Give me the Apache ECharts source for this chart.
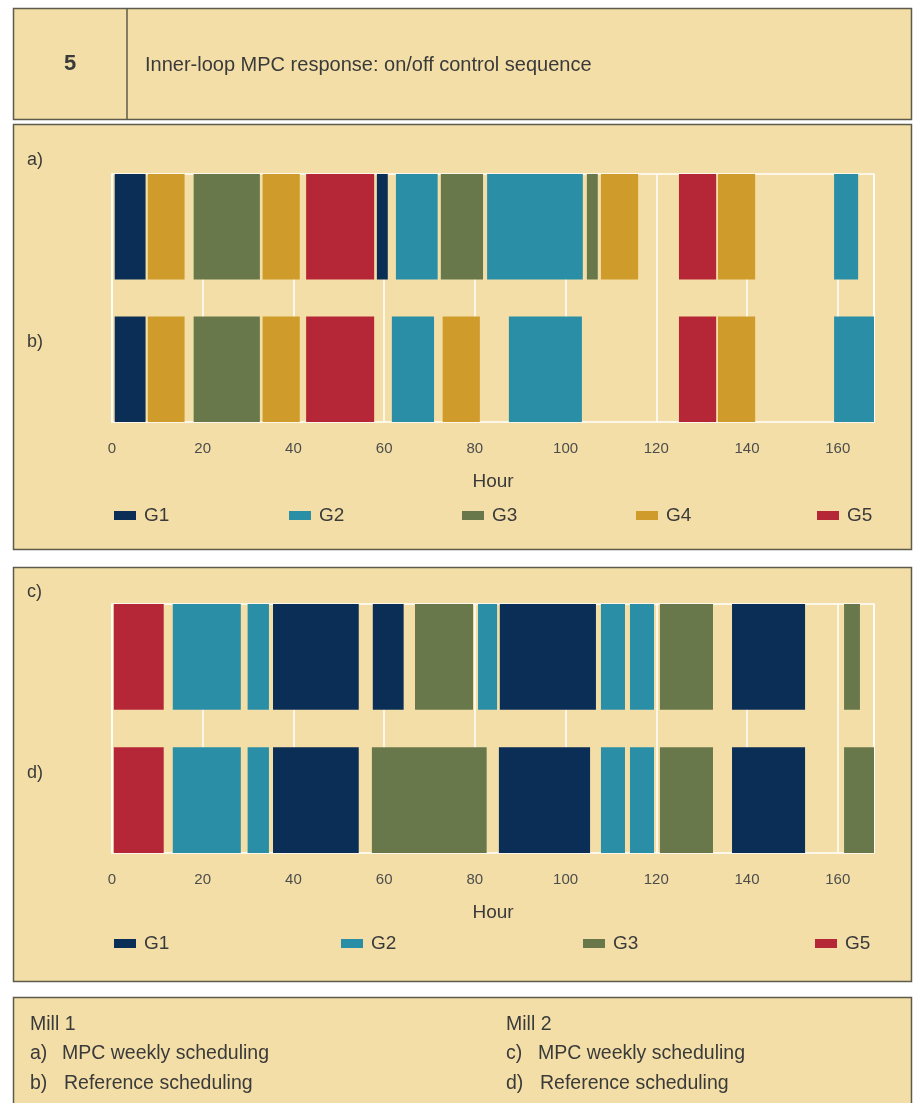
<!DOCTYPE html>
<html>
<head>
<meta charset="utf-8">
<title>Inner-loop MPC response</title>
<script src="https://cdn.jsdelivr.net/npm/echarts@6/dist/echarts.min.js"></script>
<style>
  html, body { margin: 0; padding: 0; background: #ffffff; }
  #chart { width: 913px; height: 1103px; }
</style>
</head>
<body>
<div id="chart"></div>
<script>
// Generator units and their colours
const unitsMill1 = ['G1', 'G2', 'G3', 'G4', 'G5'];
const unitsMill2 = ['G1', 'G2', 'G3', 'G5'];
const unitColors = ['#0a2e55', '#2a8ea6', '#68784a', '#cf9b2b', '#b52736'];
const unitColorNames = ['G1', 'G2', 'G3', 'G4', 'G5'];

// Hour axis ticks (one week)
const hourTicks = [0, 20, 40, 60, 80, 100, 120, 140, 160];
const weekHours = 168;

// On-periods per schedule: [unit, start hour, end hour]
const mpcMill1 = [
  ['G1', 0.6, 7.4], ['G4', 7.9, 16.0], ['G3', 18.0, 32.6], ['G4', 33.2, 41.4],
  ['G5', 42.8, 57.8], ['G1', 58.4, 60.8], ['G2', 62.6, 71.8], ['G3', 72.5, 81.8],
  ['G2', 82.7, 103.8], ['G3', 104.7, 107.1], ['G4', 107.8, 116.0], ['G5', 125.0, 133.2],
  ['G4', 133.6, 141.8], ['G2', 159.2, 164.5]
];
const refMill1 = [
  ['G1', 0.6, 7.4], ['G4', 7.9, 16.0], ['G3', 18.0, 32.6], ['G4', 33.2, 41.4],
  ['G5', 42.8, 57.8], ['G2', 61.7, 71.0], ['G4', 72.9, 81.1], ['G2', 87.5, 103.6],
  ['G5', 125.0, 133.2], ['G4', 133.6, 141.8], ['G2', 159.2, 168.0]
];
const mpcMill2 = [
  ['G5', 0.4, 11.4], ['G2', 13.4, 28.4], ['G2', 29.9, 34.6], ['G1', 35.5, 54.4],
  ['G1', 57.5, 64.3], ['G3', 66.8, 79.6], ['G2', 80.7, 84.9], ['G1', 85.5, 106.7],
  ['G2', 107.8, 113.1], ['G2', 114.2, 119.5], ['G3', 120.8, 132.5], ['G1', 136.7, 152.8],
  ['G3', 161.4, 164.9]
];
const refMill2 = [
  ['G5', 0.4, 11.4], ['G2', 13.4, 28.4], ['G2', 29.9, 34.6], ['G1', 35.5, 54.4],
  ['G3', 57.3, 82.6], ['G1', 85.3, 105.4], ['G2', 107.8, 113.1], ['G2', 114.2, 119.5],
  ['G3', 120.8, 132.5], ['G1', 136.7, 152.8], ['G3', 161.4, 168.0]
];

// Row labels and caption text
const rowLabels = ['a)', 'b)', 'c)', 'd)'];
const figureNumber = '5';
const figureTitle = 'Inner-loop MPC response: on/off control sequence';
const captionMill1 = ['Mill 1', 'a)', 'MPC weekly scheduling', 'b)', 'Reference scheduling'];
const captionMill2 = ['Mill 2', 'c)', 'MPC weekly scheduling', 'd)', 'Reference scheduling'];

const FONT = '"Liberation Sans", Arial, sans-serif';
const PANEL_BG = '#f2dea6';
const PANEL_BORDER = '#5e5b4d';
const TEXT = '#3a3a3a';

// Each schedule occupies one band: upper band (row 0) or lower band (row 1)
const BAND = 0.425;
function renderPeriod(params, api) {
  const start = api.value(0);
  const end = api.value(1);
  const row = api.value(2);
  const base = row === 0 ? 1 - BAND : 0;
  const p1 = api.coord([start, base + BAND]);
  const p2 = api.coord([end, base]);
  return {
    type: 'rect',
    shape: { x: p1[0], y: p1[1], width: p2[0] - p1[0], height: p2[1] - p1[1] },
    style: { fill: api.visual('color') }
  };
}

function buildSeries(units, upper, lower, axisIndex) {
  return units.map(function (u) {
    const data = [];
    upper.forEach(function (d) { if (d[0] === u) data.push([d[1], d[2], 0]); });
    lower.forEach(function (d) { if (d[0] === u) data.push([d[1], d[2], 1]); });
    return {
      type: 'custom',
      name: u,
      xAxisIndex: axisIndex,
      yAxisIndex: axisIndex,
      renderItem: renderPeriod,
      itemStyle: { color: unitColors[unitColorNames.indexOf(u)] },
      encode: { x: [0, 1] },
      data: data,
      z: 3
    };
  });
}

function xAxisDef(gridIndex) {
  return {
    type: 'value',
    gridIndex: gridIndex,
    min: 0,
    max: weekHours,
    interval: 20,
    name: 'Hour',
    nameLocation: 'middle',
    nameGap: 50,
    nameTextStyle: { fontFamily: FONT, fontSize: 19, color: TEXT },
    axisLine: { show: false },
    axisTick: { show: false },
    axisLabel: {
      margin: 19,
      fontFamily: FONT,
      fontSize: 15,
      color: '#4d4d4d',
      showMaxLabel: true,
      formatter: function (v) { return hourTicks.indexOf(v) >= 0 ? String(v) : ''; }
    },
    splitLine: { show: true, lineStyle: { color: '#ffffff', width: 1.5 } }
  };
}

function yAxisDef(gridIndex) {
  return {
    type: 'value', gridIndex: gridIndex, min: 0, max: 1, show: false,
    splitLine: { show: false }
  };
}

function legendDef(name, left, top) {
  return {
    data: [name],
    left: left,
    top: top,
    padding: 0,
    itemWidth: 22,
    itemHeight: 9,
    icon: 'rect',
    selectedMode: false,
    textStyle: { fontFamily: FONT, fontSize: 19, color: TEXT, padding: [0, 0, 0, 3] }
  };
}

function panel(x, y, w, h) {
  return {
    type: 'rect',
    shape: { x: x, y: y, width: w, height: h },
    style: { fill: PANEL_BG, stroke: PANEL_BORDER, lineWidth: 1.5 },
    z: -10
  };
}

function text(str, x, y, size, weight, align) {
  return {
    type: 'text',
    x: x, y: y,
    style: {
      text: str, fontFamily: FONT, fontSize: size, fill: TEXT,
      fontWeight: weight || 'normal',
      verticalAlign: 'middle', align: align || 'left'
    },
    z: 10
  };
}

const graphics = [
  panel(13.5, 8.5, 898, 111),
  { type: 'line', shape: { x1: 127, y1: 8.5, x2: 127, y2: 119.5 },
    style: { stroke: PANEL_BORDER, lineWidth: 1.5 }, z: -9 },
  text(figureNumber, 70, 64, 22, 'bold', 'center'),
  text(figureTitle, 145, 65, 20),
  panel(13.5, 124.5, 898, 425),
  panel(13.5, 567.5, 898, 414),
  panel(13.5, 997.5, 898, 120),
  text(rowLabels[0], 27, 160, 18),
  text(rowLabels[1], 27, 342, 18),
  text(rowLabels[2], 27, 592, 18),
  text(rowLabels[3], 27, 773, 18),
  text(captionMill1[0], 30, 1025, 19.5),
  text(captionMill1[1], 30, 1054, 19.5),
  text(captionMill1[2], 62, 1054, 19.5),
  text(captionMill1[3], 30, 1084, 19.5),
  text(captionMill1[4], 64, 1084, 19.5),
  text(captionMill2[0], 506, 1025, 19.5),
  text(captionMill2[1], 506, 1054, 19.5),
  text(captionMill2[2], 538, 1054, 19.5),
  text(captionMill2[3], 506, 1084, 19.5),
  text(captionMill2[4], 540, 1084, 19.5)
];

const legendLeft1 = [114, 289, 462, 636, 817];
const legendLeft2 = [114, 341, 583, 815];
const legends = [];
unitsMill1.forEach(function (u, i) { legends.push(legendDef(u, legendLeft1[i], 506)); });
unitsMill2.forEach(function (u, i) { legends.push(legendDef(u, legendLeft2[i], 934)); });

const chart = echarts.init(document.getElementById('chart'), null, { renderer: 'canvas' });
chart.setOption({
  animation: false,
  backgroundColor: '#ffffff',
  textStyle: { fontFamily: FONT },
  grid: [
    { left: 112, top: 174, width: 762, height: 248, show: true, borderColor: '#ffffff', borderWidth: 1.5, backgroundColor: 'transparent' },
    { left: 112, top: 604, width: 762, height: 249, show: true, borderColor: '#ffffff', borderWidth: 1.5, backgroundColor: 'transparent' }
  ],
  xAxis: [xAxisDef(0), xAxisDef(1)],
  yAxis: [yAxisDef(0), yAxisDef(1)],
  legend: legends,
  graphic: graphics,
  series: buildSeries(unitsMill1, mpcMill1, refMill1, 0)
    .concat(buildSeries(unitsMill2, mpcMill2, refMill2, 1))
});
</script>
</body>
</html>
